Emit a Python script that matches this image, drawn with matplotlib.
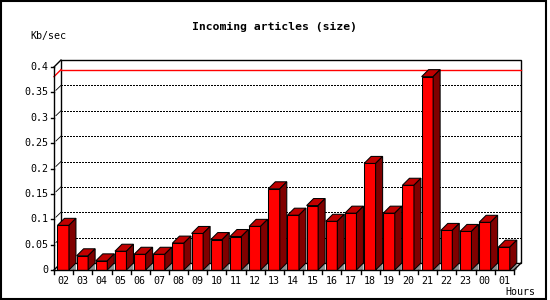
import matplotlib
matplotlib.use("Agg")
import matplotlib.pyplot as plt
from matplotlib.patches import Polygon, Rectangle

hours = ["02", "03", "04", "05", "06", "07", "08", "09", "10", "11", "12", "13",
         "14", "15", "16", "17", "18", "19", "20", "21", "22", "23", "00", "01"]
kb_sec = [0.088, 0.028, 0.018, 0.037, 0.031, 0.031, 0.053, 0.072, 0.060, 0.066, 0.086, 0.160,
          0.108, 0.127, 0.096, 0.112, 0.210, 0.112, 0.167, 0.381, 0.078, 0.076, 0.094, 0.045]
yticks = [0, 0.05, 0.1, 0.15, 0.2, 0.25, 0.3, 0.35, 0.4]
ytick_labels = ["0", "0.05", "0.1", "0.15", "0.2", "0.25", "0.3", "0.35", "0.4"]

FONT = "DejaVu Sans Mono"
FRONT = "#ff0000"
TOP = "#c00000"
SIDE = "#800000"
SHADOW = "#909090"

fig = plt.figure(figsize=(5.5, 3), dpi=100)
fig.patch.set_facecolor("white")

# front plane of the plot: x 54..514 px, y 67..270 px
ax = fig.add_axes([54 / 550, 30 / 300, 460 / 550, 203 / 300])
n = len(hours)
ymax = 0.4
ax.set_xlim(0, n)
ax.set_ylim(0, ymax)
ax.axis("off")

# depth of the fake 3d, 7 px in data units
dx = 7 / (460 / n)
dy = 7 / (203 / ymax)
bw = 0.6
DOTS = (0, (2, 2))

def poly(pts, fc, ec="black", lw=0.75, z=3, **kw):
    ax.add_patch(Polygon(pts, closed=True, facecolor=fc, edgecolor=ec,
                         linewidth=lw, zorder=z, clip_on=False, **kw))

def line(xs, ys, z=2, **kw):
    ax.plot(xs, ys, clip_on=False, zorder=z, **kw)

# back wall frame
ax.add_patch(Rectangle((dx, dy), n, ymax, facecolor="white", edgecolor="black",
                       linewidth=1.0, zorder=0, clip_on=False))

# dotted grid lines on back wall, with short diagonal to the front axis
for v in yticks[1:-1]:
    line([dx, n + dx], [v + dy, v + dy], color="black", linewidth=0.72,
         linestyle=DOTS, antialiased=False, z=1)
    line([0.1, dx], [v + dy * 0.3, v + dy], color="black", linewidth=0.6, z=1)

# max value line
vmax = max(kb_sec)
line([dx, n + dx], [vmax + dy, vmax + dy], color="red", linewidth=1.0, z=1)
line([0, dx], [vmax, vmax + dy], color="red", linewidth=1.0, z=1)

# axes edges
line([0, 0], [0, ymax], color="black", linewidth=1.0, z=5)
line([0, dx], [ymax, ymax + dy], color="black", linewidth=1.0, z=5)
line([0, n], [0, 0], color="black", linewidth=1.0, z=5)
line([0, dx], [0, dy], color="black", linewidth=1.0, z=1)
line([n, n + dx], [0, dy], color="black", linewidth=1.0, z=5)

# bars
for i, v in enumerate(kb_sec):
    x0 = i + 0.5 - bw / 2 - 0.02
    x1 = x0 + bw
    poly([(x1, 0), (x1 + dx, dy), (x1 + dx, 0)], SHADOW, ec="none", z=2)
    ax.bar(x0, v, width=bw, align="edge", color=FRONT, edgecolor="black",
           linewidth=0.75, zorder=3)
    poly([(x0, v), (x1, v), (x1 + dx, v + dy), (x0 + dx, v + dy)], TOP)
    poly([(x1, 0), (x1 + dx, dy), (x1 + dx, v + dy), (x1, v)], SIDE)

# y ticks and labels
for v, lab in zip(yticks, ytick_labels):
    line([-0.15, 0], [v, v], color="black", linewidth=1.0, z=5)
    ax.text(-0.3, v, lab, ha="right", va="center", fontsize=7.2, family=FONT)

# x ticks and labels
for i in range(n + 1):
    line([i, i], [0, -0.008], color="black", linewidth=1.0, z=5)
for i, lab in enumerate(hours):
    ax.text(i + 0.48, -0.022, lab, ha="center", va="center", fontsize=7.2, family=FONT)

fig.text(30 / 550, 1 - 36 / 300, "Kb/sec", ha="left", va="center", fontsize=7.2, family=FONT)
fig.text(505 / 550, 1 - 292 / 300, "Hours", ha="left", va="center", fontsize=7.2, family=FONT)
fig.text(275 / 550, 1 - 27 / 300, "Incoming articles (size)", ha="center", va="center",
         fontsize=8.2, family=FONT, fontweight="bold")

# image border
fig.add_artist(Rectangle((1 / 550, 1 / 300), 545 / 550, 298 / 300, transform=fig.transFigure,
                         facecolor="none", edgecolor="black", linewidth=1.5))

fig.savefig("out.png", dpi=100)
